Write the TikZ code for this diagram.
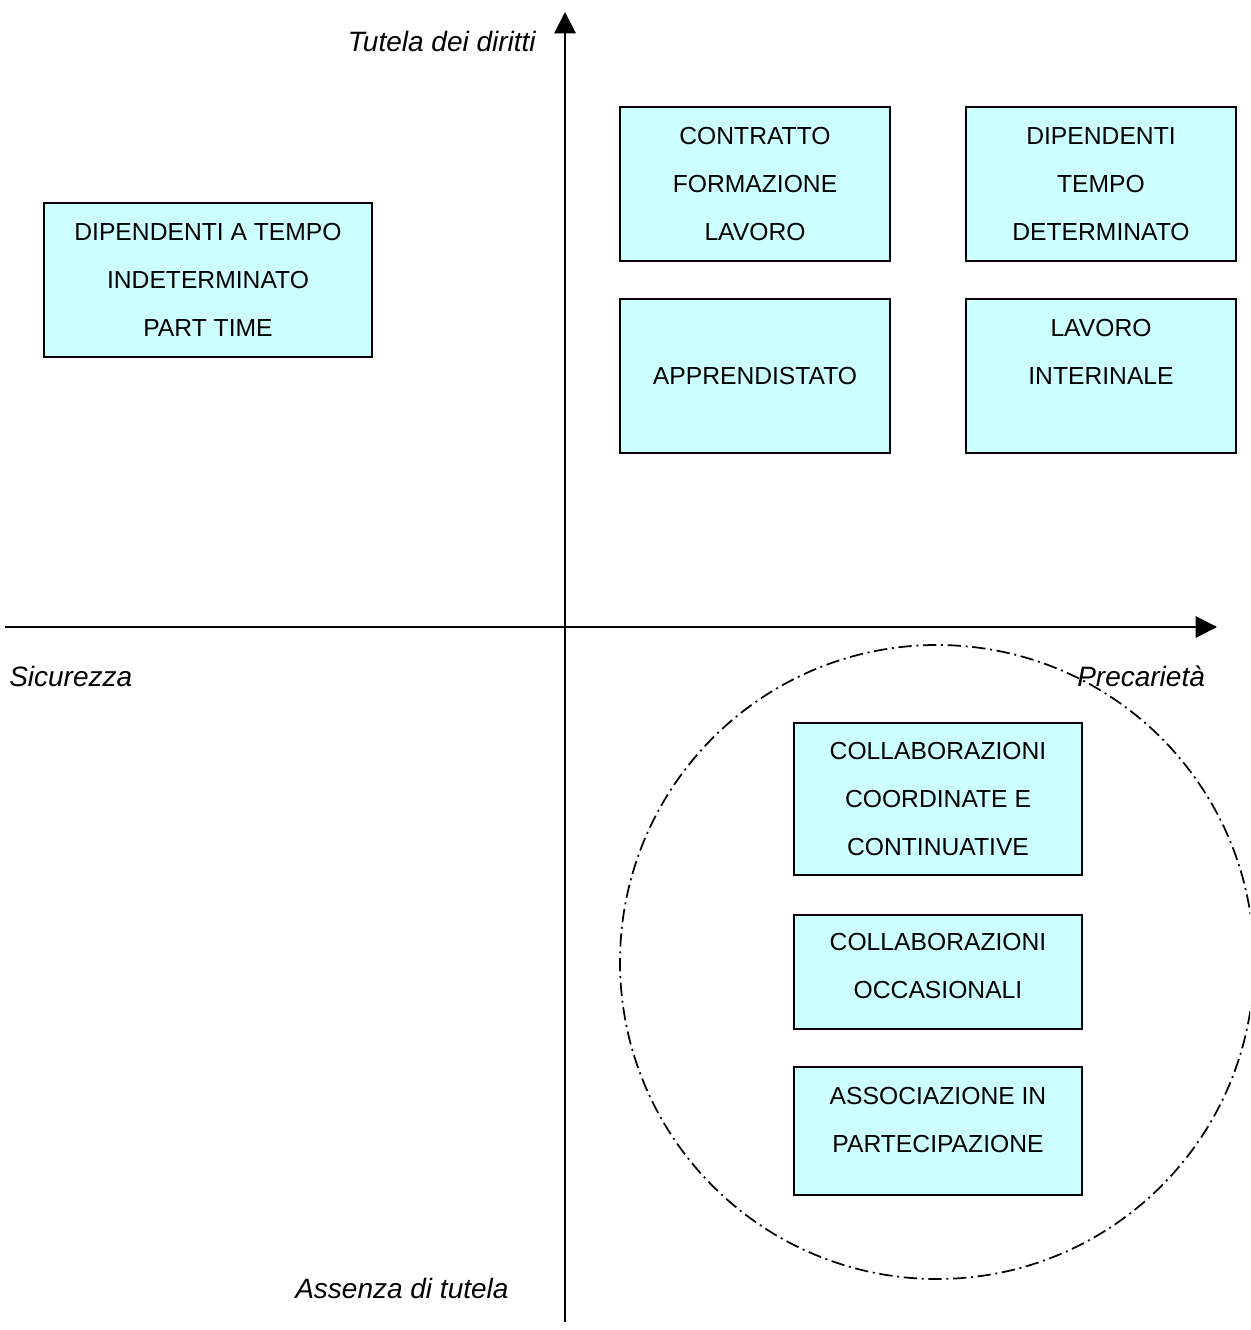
\documentclass[tikz,border=0pt]{standalone}
\usepackage{fontspec}
\setmainfont{Liberation Sans}
\usetikzlibrary{arrows.meta}
\definecolor{boxfill}{HTML}{CCFFFF}
\begin{document}
\begin{tikzpicture}[x=0.75pt,y=-0.75pt,
  box/.style={draw=black, line width=1.3pt, fill=boxfill, align=center, inner sep=0pt,
    font=\fontsize{18.5}{36}\selectfont},
  bigbox/.style={box, minimum width=202.5pt, minimum height=115.5pt},
  lowbox/.style={box, minimum width=216pt},
  axis/.style={line width=1.5pt, -{Triangle[length=16pt,width=16pt]}},
  lab/.style={font=\fontsize{21}{25}\selectfont\itshape, inner sep=0pt},
  zone/.style={line width=1.3pt, dash pattern=on 10pt off 3.5pt on 1.5pt off 3.5pt}]
\useasboundingbox (0,0) rectangle (1250,1330);
\clip (0,0) rectangle (1250,1330);

% zone circle
\draw[zone] (937,962) circle[radius=317];

% axes
\coordinate (yb) at (565,1322);
\coordinate (yt) at (565,12);
\coordinate (xl) at (5,627);
\coordinate (xr) at (1217,627);
\draw[axis] (yb) -- (yt);
\draw[axis] (xl) -- (xr);

% axis labels
\node[lab, anchor=base east] (tut) at (536,52) {Tutela dei diritti};
\node[lab, anchor=base west] (sic) at (9,686) {Sicurezza};
\node[lab, anchor=base west] (pre) at (1077,686) {Precarietà};
\node[lab, anchor=base west] (ass) at (295,1298) {Assenza di tutela};

% boxes
\node[box, minimum width=246pt, minimum height=115.5pt] (dipind) at (208,280)
  {DIPENDENTI A TEMPO\\INDETERMINATO\\PART TIME};
\node[bigbox] (cfl) at (755,184) {CONTRATTO\\FORMAZIONE\\LAVORO};
\node[bigbox] (dtd) at (1101,184) {DIPENDENTI\\TEMPO\\DETERMINATO};
\node[bigbox] (appr) at (755,376) {APPRENDISTATO};
\node[bigbox] (lint) at (1101,376) {LAVORO\\INTERINALE\\~};
\node[lowbox, minimum height=114pt] (cococo) at (938,799)
  {COLLABORAZIONI\\COORDINATE E\\CONTINUATIVE};
\node[lowbox, minimum height=85.5pt] (occ) at (938,972)
  {COLLABORAZIONI\\OCCASIONALI\rule[-9pt]{0pt}{9pt}};
\node[lowbox, minimum height=96pt] (assoc) at (938,1131)
  {ASSOCIAZIONE IN\\PARTECIPAZIONE\rule[-16.5pt]{0pt}{16.5pt}};
\end{tikzpicture}
\end{document}
